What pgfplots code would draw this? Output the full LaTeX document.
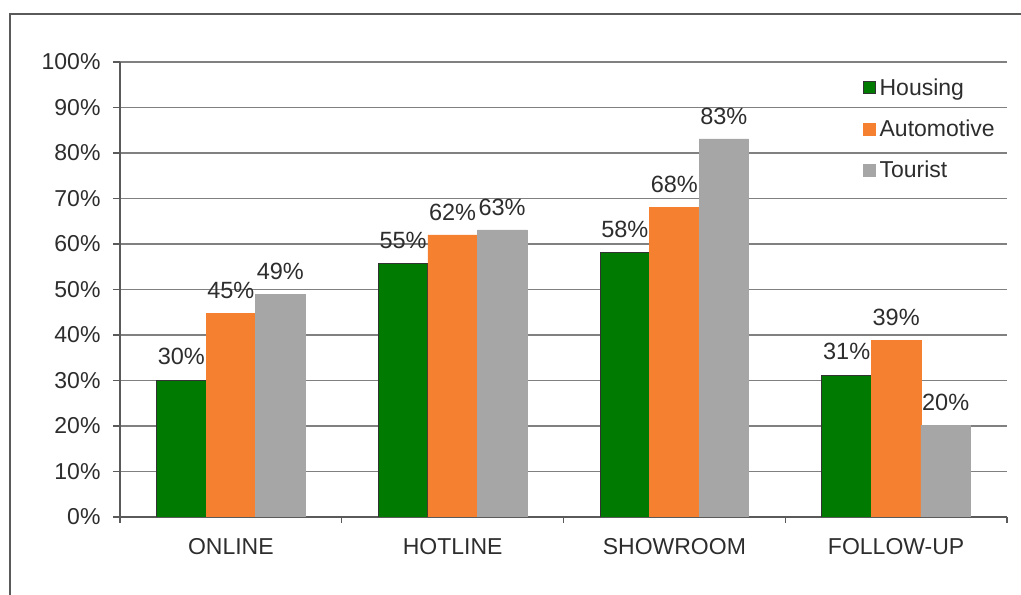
\documentclass[border=0pt]{standalone}
\usepackage{pgfplots}
\pgfplotsset{compat=1.18}
\usepackage{fontspec}
\setmainfont{Liberation Sans}
\definecolor{cgreen}{RGB}{0,122,0}
\definecolor{corange}{RGB}{245,128,48}
\definecolor{cgray}{RGB}{166,166,166}
\definecolor{cgrid}{RGB}{128,128,128}
\definecolor{caxis}{RGB}{90,90,90}
\definecolor{ctext}{RGB}{45,45,45}
\begin{document}
\begin{tikzpicture}
\useasboundingbox (0,0) rectangle (1021bp,595bp);
\draw[color=caxis, line width=1.5bp] (10bp,0) -- (10bp,581bp) -- (1021bp,581bp);
\begin{axis}[
  at={(120bp,78bp)}, anchor=south west,
  scale only axis, width=887bp, height=455bp,
  ybar=0pt, bar width=49.5bp,
  xmin=-0.5, xmax=3.5, ymin=0, ymax=100,
  xtick={0,1,2,3}, xticklabels={ONLINE,HOTLINE,SHOWROOM,FOLLOW-UP},
  major x tick style={draw=none},
  minor xtick={-0.5,0.5,1.5,2.5,3.5},
  minor tick length=6bp, major tick length=7bp,
  ytick={0,10,...,100},
  yticklabels={0\%,10\%,20\%,30\%,40\%,50\%,60\%,70\%,80\%,90\%,100\%},
  tick align=outside,
  axis x line*=bottom, axis y line*=left,
  axis line style={caxis, line width=1.3bp},
  every tick/.style={caxis, line width=1.3bp},
  ymajorgrids, grid style={cgrid, line width=1.3bp},
  tick label style={font=\fontsize{23bp}{27bp}\selectfont, text=ctext},
  yticklabel style={xshift=-9bp},
  xticklabel style={yshift=-11bp},
  nodes near coords={\pgfplotspointmeta\%},
  point meta=explicit symbolic,
  every node near coord/.append style={font=\fontsize{23.5bp}{27bp}\selectfont, text=ctext, yshift=11bp},
  legend style={draw=none, fill=none, at={(0.837,0.968)}, anchor=north west,
    font=\fontsize{23bp}{27bp}\selectfont, text=ctext, row sep=19bp, inner sep=0pt,
    nodes={inner xsep=4bp}},
  legend cell align=left,
  legend image code/.code={\draw[#1] (0bp,-6bp) rectangle (12bp,6bp);},
]
\addplot[fill=cgreen, draw=black!80, line width=1bp] coordinates {(0,30.1) [30] (1,55.8) [55] (2,58.2) [58] (3,31.2) [31]};
\addplot[fill=corange, draw=corange] coordinates {(0,44.8) [45] (1,62.0) [62] (2,68.1) [68] (3,38.9) [39]};
\addplot[fill=cgray, draw=cgray] coordinates {(0,49.0) [49] (1,63.1) [63] (2,83.1) [83] (3,20.2) [20]};
\legend{Housing,Automotive,Tourist}
\end{axis}
\end{tikzpicture}
\end{document}
